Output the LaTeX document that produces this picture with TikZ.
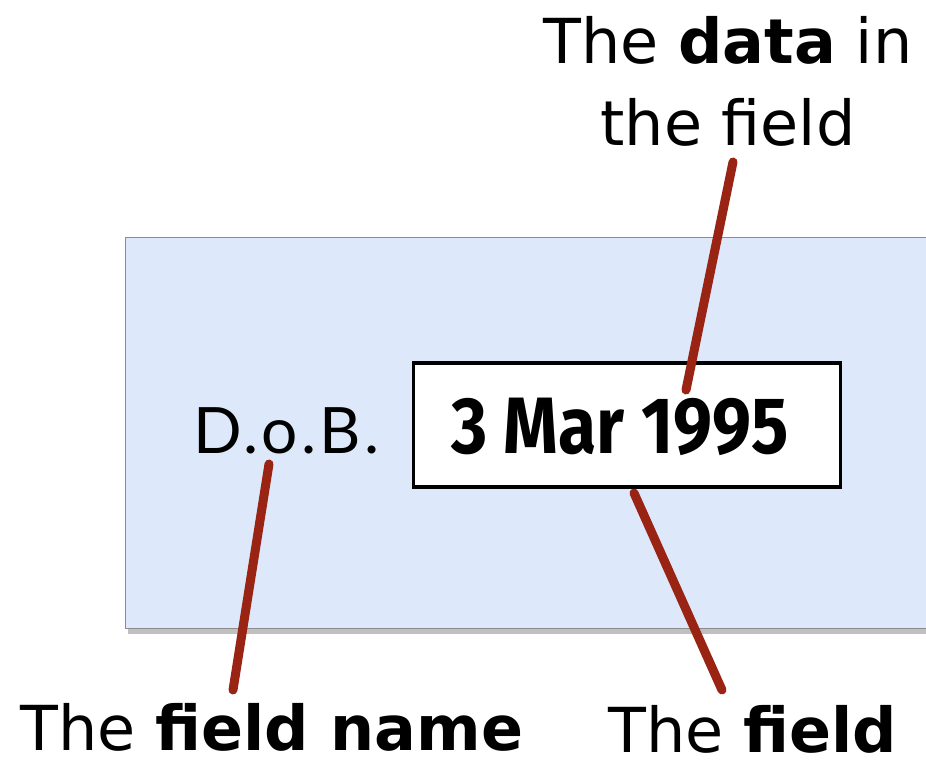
\documentclass[tikz,border=0pt]{standalone}
\usepackage{fontspec}
\setmainfont{DejaVu Sans}
\newfontfamily\dobfont[LetterSpace=5]{Lato}
\newfontfamily\datefont{Fira Sans}
\usetikzlibrary{shadows}
\definecolor{panelblue}{HTML}{DEE8FB}
\definecolor{paneledge}{HTML}{8C8C8C}
\definecolor{pointer}{HTML}{992414}
\tikzset{
  panel/.style={fill=panelblue, draw=paneledge, line width=1.2pt,
    drop shadow={shadow xshift=2pt, shadow yshift=-5pt, opacity=0.35, fill=black!70}},
  fieldbox/.style={fill=white, draw=black, line width=3.5pt},
  label/.style={inner sep=0pt, text depth=0pt, font=\fontsize{62}{82}\selectfont},
  pointerline/.style={draw=pointer, line width=9pt, line cap=round},
}
\begin{document}
\begin{tikzpicture}[x=1pt,y=-1pt]
\clip (0,0) rectangle (926,761);
\fill[white] (0,0) rectangle (926,761);
\node[panel, minimum width=820pt, minimum height=391pt, anchor=north west, inner sep=0pt] (panel) at (125,237) {};
\node[fieldbox, minimum width=427pt, minimum height=124pt, anchor=north west, inner sep=0pt] (field) at (411.5,361) {};
\node[inner sep=0pt, anchor=base west, font=\dobfont\fontsize{64}{74}\selectfont] (dob) at (193,453) {D.o.B.};
\node[inner sep=0pt, anchor=base, font=\datefont\bfseries\fontsize{80}{86}\selectfont] (date) at (620,453) {\scalebox{0.87}[1]{3 Mar 1995}};
\node[label, anchor=base, align=center] (datalabel) at (728,145) {The \textbf{data} in\\the field};
\node[label, anchor=base west] (namelabel) at (20,750) {The \textbf{field name}};
\node[label, anchor=base west] (fieldlabel) at (608,752) {The \textbf{field}};
\coordinate (p1a) at (733,162);
\coordinate (p1b) at (686,390);
\coordinate (p2a) at (269,464);
\coordinate (p2b) at (233,690);
\coordinate (p3a) at (634,493);
\coordinate (p3b) at (722,690);
\draw[pointerline] (p1a) -- (p1b);
\draw[pointerline] (p2a) -- (p2b);
\draw[pointerline] (p3a) -- (p3b);
\end{tikzpicture}
\end{document}
